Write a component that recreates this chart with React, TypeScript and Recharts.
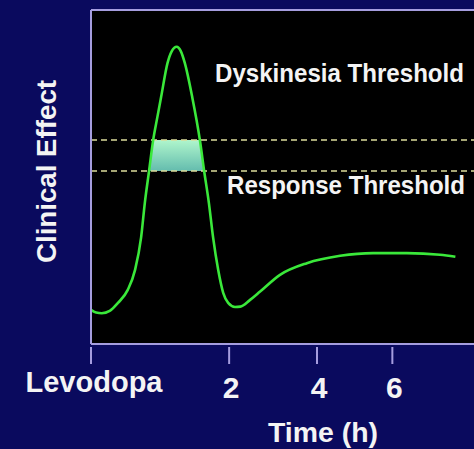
import React from 'react';
import { ComposedChart, Line, Area, XAxis, YAxis, ReferenceLine, CartesianGrid } from 'recharts';

// ---- data ----
const TIME_H = [0, 0.019, 0.055, 0.12, 0.2, 0.31, 0.4, 0.48, 0.53, 0.59, 0.65, 0.71, 0.77, 0.87, 0.94, 1.02, 1.09, 1.16, 1.29, 1.43, 1.51, 1.6, 1.68, 1.78, 1.88, 1.98, 2.12, 2.23, 2.44, 2.66, 3.11, 3.75, 4.59, 5.47, 6.41, 7.38, 7.84];
const CLINICAL_EFFECT = [10.2, 9.4, 9.2, 9.9, 12.3, 16.2, 22.2, 32.0, 42.2, 51.8, 61.1, 67.7, 74.0, 84.1, 87.7, 89.0, 87.7, 84.1, 74.0, 61.1, 51.8, 42.2, 32.0, 22.2, 15.3, 12.3, 11.1, 11.2, 13.2, 15.7, 20.7, 24.2, 26.4, 27.2, 27.2, 26.7, 26.1];
const DYSKINESIA_THRESHOLD = 61.1;
const RESPONSE_THRESHOLD = 51.8;
const X_TICKS = [0, 2, 4, 6];
const X_TICK_LABELS = ['Levodopa', '2', '4', '6'];
const X_DOMAIN = [0, 8.41];
const Y_DOMAIN = [0, 100];
const X_SCALE_EXPONENT = 0.71;

const DATA = TIME_H.map((t, i) => {
  const v = CLINICAL_EFFECT[i];
  return {
    t,
    effect: v,
    band: v >= RESPONSE_THRESHOLD ? [RESPONSE_THRESHOLD, Math.min(v, DYSKINESIA_THRESHOLD)] : null,
  };
});

// ---- styles ----
const NAVY = '#0a0a5e';
const BORDER = '#a59ddf';
const TEXT = '#f4f4f4';
const CURVE = '#3ae83a';
const DASH = '#dcdc9a';
const FONT = "'Liberation Sans', Arial, Helvetica, sans-serif";

// custom power scale (time axis of the original is compressed)
function powScale(exponent: number): any {
  let dom: number[] = [0, 1];
  let rng: number[] = [0, 1];
  const f = (v: number) => Math.sign(v) * Math.pow(Math.abs(v), exponent);
  const finv = (v: number) => Math.sign(v) * Math.pow(Math.abs(v), 1 / exponent);
  const scale: any = (v: any) => {
    const n = Number(v);
    const d0 = f(dom[0]);
    const d1 = f(dom[dom.length - 1]);
    const r0 = rng[0];
    const r1 = rng[rng.length - 1];
    if (d1 === d0) return (r0 + r1) / 2;
    return r0 + ((f(n) - d0) / (d1 - d0)) * (r1 - r0);
  };
  scale.domain = (d?: any) => {
    if (d === undefined) return dom.slice();
    dom = Array.from(d, (x: any) => Number(x));
    return scale;
  };
  scale.range = (r?: any) => {
    if (r === undefined) return rng.slice();
    rng = Array.from(r, (x: any) => Number(x));
    return scale;
  };
  scale.copy = () => powScale(exponent).domain(dom).range(rng);
  scale.invert = (px: number) => {
    const d0 = f(dom[0]);
    const d1 = f(dom[dom.length - 1]);
    const r0 = rng[0];
    const r1 = rng[rng.length - 1];
    return finv(d0 + ((px - r0) / (r1 - r0)) * (d1 - d0));
  };
  scale.ticks = (count = 10) => {
    const a = dom[0];
    const b = dom[dom.length - 1];
    const step = (b - a) / Math.max(1, count);
    const out: number[] = [];
    for (let i = 0; i <= count; i++) out.push(a + step * i);
    return out;
  };
  scale.tickFormat = () => (v: any) => String(v);
  scale.nice = () => scale;
  scale.clamp = () => scale;
  scale.exponent = () => exponent;
  return scale;
}
const X_SCALE = powScale(X_SCALE_EXPONENT);

const XTick = (props: any) => {
  const { x, y, payload } = props;
  const idx = X_TICKS.indexOf(Number(payload?.value));
  const label = idx >= 0 ? X_TICK_LABELS[idx] : String(payload?.value);
  const isWord = idx === 0;
  return (
    <g>
      <line x1={x} x2={x} y1={y + 3} y2={y + 20} stroke={BORDER} strokeWidth={2} />
      <text
        x={x + (isWord ? 3 : 2)}
        y={isWord ? y + 48 : y + 54}
        textAnchor="middle"
        fill={TEXT}
        fontSize={isWord ? 29 : 30}
        fontWeight="bold"
        fontFamily={FONT}
        {...(isWord ? { textLength: 137, lengthAdjust: 'spacingAndGlyphs' } : {})}
      >
        {label}
      </text>
    </g>
  );
};

const TimeTitle = () => (
  <text x={323} y={442} textAnchor="middle" fill={TEXT} fontSize={28} fontWeight="bold" fontFamily={FONT}
    textLength={110} lengthAdjust="spacingAndGlyphs">
    Time (h)
  </text>
);

const EffectTitle = () => (
  <text x={56} y={171.5} transform="rotate(-90 56 171.5)" textAnchor="middle" fill={TEXT} fontSize={28}
    fontWeight="bold" fontFamily={FONT} textLength={183} lengthAdjust="spacingAndGlyphs">
    Clinical Effect
  </text>
);

const ThresholdLabel = (props: any) => {
  const { viewBox, text, left, dy, len } = props;
  const baseY = viewBox && typeof viewBox.y === 'number' ? viewBox.y : 0;
  return (
    <text x={left} y={baseY + dy} fill={TEXT} fontSize={25} fontWeight="bold" fontFamily={FONT}
      textLength={len} lengthAdjust="spacingAndGlyphs">
      {text}
    </text>
  );
};

export default function App() {
  return (
    <div style={{ position: 'absolute', left: 0, top: 0, width: 474, height: 449, background: NAVY, overflow: 'hidden' }}>
      <ComposedChart width={474} height={449} data={DATA} margin={{ top: 10, right: 0, bottom: 0, left: 0 }}>
        <defs>
          <linearGradient id="bandFill" x1="0" y1="0" x2="0" y2="1">
            <stop offset="0%" stopColor="#b0f6cc" />
            <stop offset="100%" stopColor="#64bcae" />
          </linearGradient>
        </defs>
        <CartesianGrid horizontal={false} vertical={false} fill="#000000" stroke="none" />
        <XAxis
          dataKey="t"
          type="number"
          scale={X_SCALE}
          domain={X_DOMAIN}
          allowDataOverflow
          ticks={X_TICKS}
          interval={0}
          height={105}
          tickSize={0}
          tickMargin={0}
          tickLine={false}
          axisLine={{ stroke: BORDER, strokeWidth: 2 }}
          tick={<XTick />}
          label={<TimeTitle />}
        />
        <YAxis
          type="number"
          domain={Y_DOMAIN}
          allowDataOverflow
          width={91}
          tick={false}
          tickLine={false}
          axisLine={{ stroke: BORDER, strokeWidth: 2 }}
          label={<EffectTitle />}
        />
        <ReferenceLine y={Y_DOMAIN[1]} stroke={BORDER} strokeWidth={2} />
        <Area
          type="linear"
          dataKey="band"
          stroke="none"
          fill="url(#bandFill)"
          fillOpacity={1}
          connectNulls={false}
          isAnimationActive={false}
        />
        <ReferenceLine
          y={DYSKINESIA_THRESHOLD}
          stroke={DASH}
          strokeWidth={1.5}
          strokeDasharray="6 4"
          label={<ThresholdLabel text="Dyskinesia Threshold" left={215} dy={-58} len={249} />}
        />
        <ReferenceLine
          y={RESPONSE_THRESHOLD}
          stroke={DASH}
          strokeWidth={1.5}
          strokeDasharray="6 4"
          label={<ThresholdLabel text="Response Threshold" left={227} dy={23} len={238} />}
        />
        <Line
          type="monotone"
          dataKey="effect"
          stroke={CURVE}
          strokeWidth={2.6}
          dot={false}
          activeDot={false}
          isAnimationActive={false}
        />
      </ComposedChart>
    </div>
  );
}
